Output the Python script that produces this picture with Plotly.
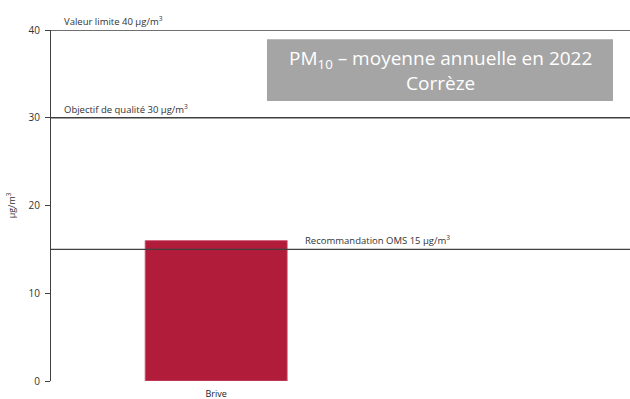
import plotly.graph_objects as go

# Annual mean PM10 per station (µg/m³)
stations = ["Brive"]
pm10_values = [16]

# Reference thresholds (µg/m³) and their labels
threshold_values = [40, 30, 15]
threshold_labels = [
    "Valeur limite 40 µg/m<sup>3</sup>",
    "Objectif de qualité 30 µg/m<sup>3</sup>",
    "Recommandation OMS 15 µg/m<sup>3</sup>",
]
threshold_label_x = [0.019, 0.019, 0.436]

y_ticks = [0, 10, 20, 30, 40]

FONT = "Open Sans, Segoe UI, sans-serif"
LINE_COLOR = "#404040"

fig = go.Figure()
fig.add_trace(go.Bar(
    x=stations,
    y=pm10_values,
    width=0.8,
    marker=dict(color="#b01c3a", line=dict(color="#d0607a", width=0.8)),
    hoverinfo="x+y",
))

for val, lab, lx in zip(threshold_values, threshold_labels, threshold_label_x):
    fig.add_shape(type="line", xref="paper", yref="y", x0=0, x1=1, y0=val, y1=val,
                  line=dict(color=LINE_COLOR, width=1.4))
    fig.add_annotation(xref="paper", yref="y", x=lx, y=val, text=lab,
                       showarrow=False, xanchor="left", yanchor="bottom", yshift=0,
                       font=dict(family=FONT, size=9.5, color="#333333"))

# Title box
fig.add_shape(type="rect", xref="paper", yref="paper", x0=0.373, x1=0.9706, y0=0.798, y1=0.974,
              fillcolor="#a5a5a5", line=dict(width=0), layer="above")
fig.add_annotation(xref="paper", yref="paper", x=0.672, y=0.886,
                   text="PM<sub>10</sub> – moyenne annuelle en 2022<br>Corrèze",
                   showarrow=False, xanchor="center", yanchor="middle",
                   font=dict(family=FONT, size=19, color="white"))

fig.update_layout(
    width=630, height=399,
    margin=dict(l=51, r=0, t=30, b=18),
    paper_bgcolor="white", plot_bgcolor="white",
    showlegend=False,
    font=dict(family=FONT, size=10, color="#333333"),
    xaxis=dict(type="category", range=[-0.93, 2.33], showline=False, showgrid=False,
               ticks="", ticklabelstandoff=6, tickfont=dict(size=9, color="#222222"),
               zeroline=False, automargin=False),
    yaxis=dict(range=[0, 40], tickvals=y_ticks, showline=True, linecolor=LINE_COLOR,
               linewidth=1.2, ticks="outside", ticklen=5, tickcolor=LINE_COLOR,
               ticklabelstandoff=3, automargin=False,
               showgrid=False, zeroline=False, tickfont=dict(size=10, color="#333333"),
               title=dict(text="µg/m<sup>3</sup>", font=dict(size=9, color="#333333"), standoff=11)),
)

fig.write_html("out.html")
